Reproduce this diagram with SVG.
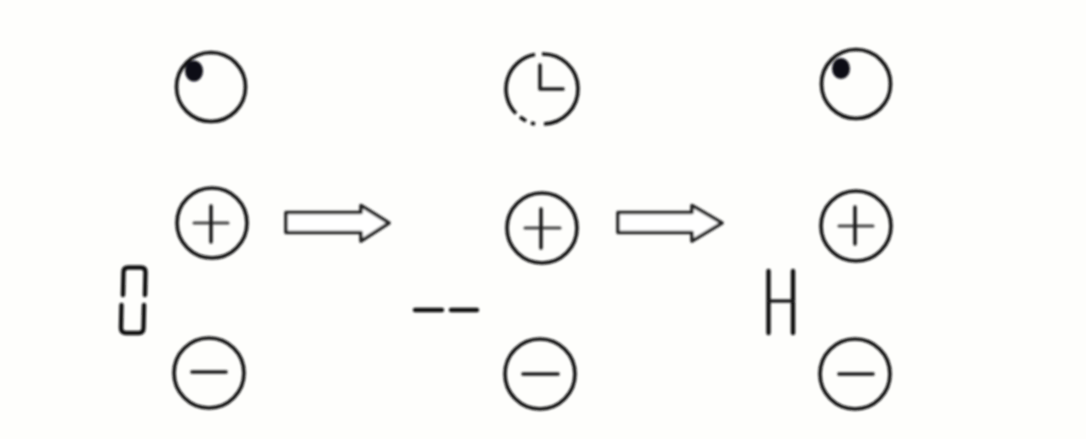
<svg xmlns="http://www.w3.org/2000/svg" width="1086" height="439" viewBox="0 0 1086 439">
  <style>
    .ring{fill:none;stroke:#111;stroke-width:3.6}
    .mark{fill:none;stroke:#1a1a1a;stroke-width:3.6;stroke-linecap:round;stroke-linejoin:round}
    .thin{fill:none;stroke:#444;stroke-width:3;stroke-linecap:round}
    .seg{fill:none;stroke:#111;stroke-width:4.4;stroke-linecap:round;stroke-linejoin:round}
    .arrow{fill:#fff;stroke:#222;stroke-width:3.6;stroke-linejoin:round}
    .dot{fill:#0c0c18}
  </style>
  <defs>
    <filter id="soft" x="-5%" y="-5%" width="110%" height="110%"><feGaussianBlur stdDeviation="0.8"/></filter>
  </defs>
  <rect width="1086" height="439" fill="#fefefc"/>
  <g filter="url(#soft)">
    <g id="connectors">
      <path class="arrow" d="M286 212.500H361V205.500L389 223L361 241V232.500H286Z"/>
      <path class="arrow" d="M618 212.500H692V205.500L722 223L692 241V232.500H618Z"/>
    </g>
    <g id="state1-indicator"><circle class="ring" cx="211" cy="87" r="34.500"/><ellipse class="dot" cx="194" cy="71" rx="9" ry="10.500"/></g>
    <g id="state1-plus"><circle class="ring" cx="212" cy="223" r="35"/><path class="thin" d="M194 223H228"/><path class="mark" d="M211 206V242"/></g>
    <g id="state1-minus"><circle class="ring" cx="209" cy="373" r="35"/><path class="mark" d="M192 372H226"/></g>
    <g id="state1-display"><path class="seg" d="M123 295L123.500 272Q123.500 267.500 128 267.500H141Q145.500 267.500 145.500 272L145 295"/><path class="seg" d="M121.500 305L121 328Q121 333 126 333H139Q143.500 333 143.500 328L144 305"/></g>

    <g id="state2-clock"><path class="ring" d="M542 54A35 35 0 0 1 544 124"/><path class="ring" d="M535 54.500A35 35 0 0 0 516 113.500"/><path class="ring" d="M520 117L526 121M531 123L535 124"/><path class="mark" d="M540 65V89H563"/></g>
    <g id="state2-plus"><circle class="ring" cx="542" cy="228" r="35"/><path class="thin" d="M525 228H560"/><path class="mark" d="M541 209V248"/></g>
    <g id="state2-minus"><circle class="ring" cx="540" cy="374" r="35"/><path class="mark" d="M523 374H558"/></g>
    <g id="state2-display"><path class="seg" d="M415 310H442M451 310H477"/></g>

    <g id="state3-indicator"><circle class="ring" cx="856" cy="84" r="34.500"/><ellipse class="dot" cx="841" cy="68.500" rx="9" ry="10.500"/></g>
    <g id="state3-plus"><circle class="ring" cx="856" cy="226" r="35"/><path class="thin" d="M839 226H873"/><path class="mark" d="M855 207V244"/></g>
    <g id="state3-minus"><circle class="ring" cx="855" cy="374" r="35"/><path class="mark" d="M839 374H873"/></g>
    <g id="state3-display"><path class="seg" d="M768.500 271V333M793 271V333"/><path class="mark" d="M769 301H793"/></g>
  </g>
</svg>
